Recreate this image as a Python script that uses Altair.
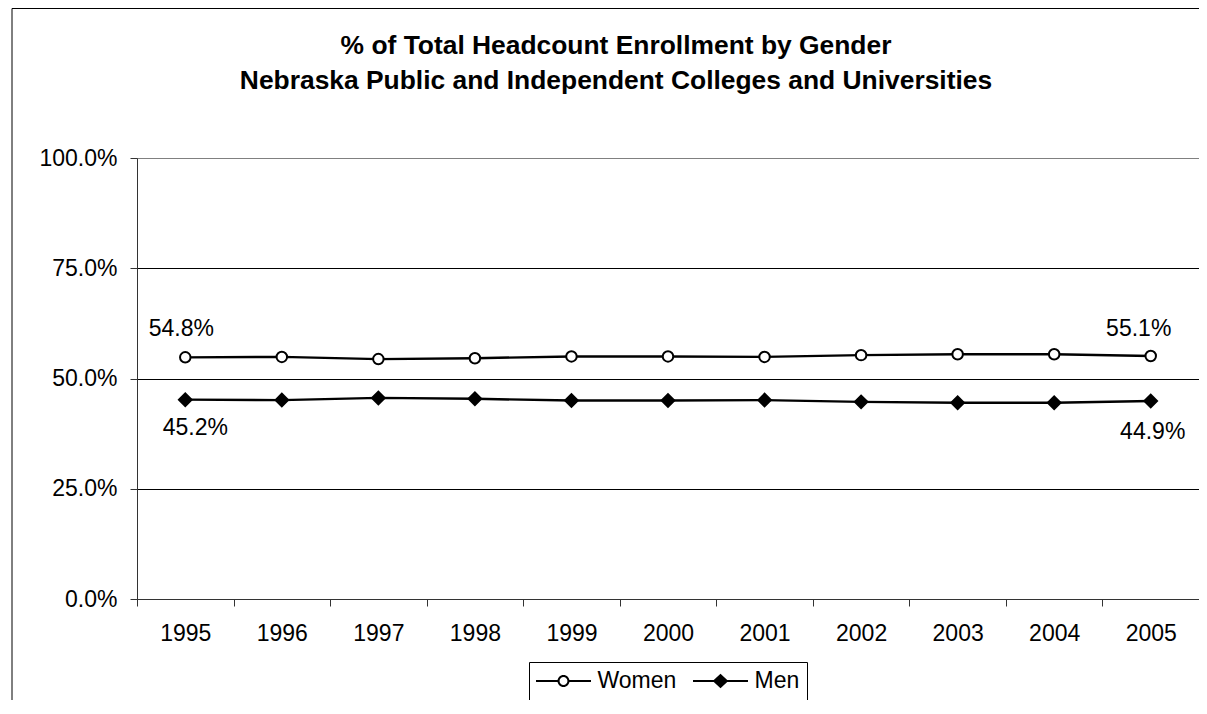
import altair as alt
import pandas as pd

FONT = "Liberation Sans"

years = ["1995", "1996", "1997", "1998", "1999", "2000",
         "2001", "2002", "2003", "2004", "2005"]
women = [54.8, 54.9, 54.4, 54.6, 55.0, 55.0, 54.9, 55.3, 55.5, 55.5, 55.1]
men = [45.2, 45.1, 45.6, 45.4, 45.0, 45.0, 45.1, 44.7, 44.5, 44.5, 44.9]
series = ["Women", "Men"]
y_ticks = [0, 0.25, 0.5, 0.75, 1.0]
title_lines = ["% of Total Headcount Enrollment by Gender",
               "Nebraska Public and Independent Colleges and Universities"]

rows = []
for s, vals in zip(series, [women, men]):
    for yr, v in zip(years, vals):
        rows.append({"year": yr, "series": s, "value": v / 100.0})
df = pd.DataFrame(rows)

W, H = 1062, 441

xscale = alt.Scale(type="band", domain=years, paddingInner=0, paddingOuter=0)
yscale = alt.Scale(domain=[0, 1], nice=False)

x_enc = alt.X("year:O", scale=xscale,
              axis=alt.Axis(title=None, tickBand="extent", labelAngle=0,
                            tickSize=7, labelPadding=16, labelFontSize=23,
                            labelFont=FONT, labelColor="black",
                            domainColor="#333333", tickColor="#333333",
                            grid=False))
y_enc = alt.Y("value:Q", scale=yscale,
              axis=alt.Axis(title=None, values=y_ticks, format=".1%",
                            tickSize=7, labelPadding=13, labelFontSize=23,
                            labelFont=FONT, labelColor="black",
                            domainColor="#333333", tickColor="#333333",
                            grid=True, gridColor="black", gridWidth=1,
                            gridOpacity={"condition": {"test": "datum.value === 0 || datum.value === 1",
                                                       "value": 0}, "value": 1}))

base = alt.Chart(df)

frame = alt.Chart(alt.Data(values=[{}])).mark_rect(
    fillOpacity=0, stroke="black", strokeWidth=1
).encode(x=alt.value(-125), x2=alt.value(W + 20),
         y=alt.value(-149.5), y2=alt.value(H + 120))

lines = base.mark_line(color="black", strokeWidth=2.4).encode(
    x=x_enc, y=y_enc, detail="series:N")

points = base.mark_point(filled=True, stroke="black", strokeWidth=2, opacity=1).encode(
    x=x_enc, y=y_enc,
    shape=alt.Shape("series:N", scale=alt.Scale(domain=series, range=["circle", "diamond"]),
                    legend=None),
    fill=alt.Fill("series:N", scale=alt.Scale(domain=series, range=["white", "black"]),
                  legend=None),
    size=alt.Size("series:N", scale=alt.Scale(domain=series, range=[110, 160]),
                  legend=None),
)

# legend glyphs (unit = 12px): line segment with marker
PATH_W = ("M-2.29,-0.09H-0.42V0.09H-2.29Z"
          "M0.42,-0.09H2.29V0.09H0.42Z"
          "M0.5,0A0.5,0.5 0 1,1 -0.5,0A0.5,0.5 0 1,1 0.5,0Z"
          "M0.33,0A0.33,0.33 0 1,0 -0.33,0A0.33,0.33 0 1,0 0.33,0Z")
PATH_M = ("M-2.29,-0.09H2.29V0.09H-2.29Z"
          "M-0.65,0L0,-0.6L0.65,0L0,0.6Z")

legend = alt.Legend(
    title=None, orient="none", legendX=392, legendY=504,
    direction="horizontal", symbolSize=576, symbolStrokeWidth=0,
    symbolFillColor="black", symbolOffset=15.5,
    labelFontSize=23, labelFont=FONT, labelColor="black",
    labelOffset=22, columnPadding=16, padding=7,
    strokeColor="black", fillColor="white", cornerRadius=0,
    labelLimit=0,
)

legend_layer = base.transform_filter("false").mark_point(
    filled=True, color="black", size=576, strokeWidth=0, opacity=1
).encode(
    x=x_enc, y=y_enc,
    shape=alt.Shape("series:N", scale=alt.Scale(domain=series, range=[PATH_W, PATH_M]),
                    legend=legend),
)


def label(series_name, year, dx, dy):
    return base.transform_filter(
        f"datum.series === '{series_name}' && datum.year === '{year}'"
    ).mark_text(dx=dx, dy=dy, fontSize=23, font=FONT, color="black",
                baseline="middle", align="center").encode(
        x=x_enc, y=y_enc, text=alt.Text("value:Q", format=".1%"))


labels = [
    label("Women", years[0], -4, -28),
    label("Men", years[0], 10, 28),
    label("Women", years[-1], -12, -27),
    label("Men", years[-1], 2, 31),
]

chart = alt.layer(frame, lines, points, legend_layer, *labels).resolve_scale(
    shape="independent"
).properties(
    width=W, height=H,
    autosize=alt.AutoSizeParams(type="none"),
    padding={"left": 129, "top": 150, "right": 0, "bottom": 101},
    title=alt.TitleParams(text=title_lines, font=FONT, fontSize=26.4,
                          fontWeight="bold", color="black", anchor="middle",
                          frame="group", dx=-52, offset=-86, lineHeight=35),
    background="white",
).configure_view(stroke="#808080", strokeWidth=1)

chart.save("out.html", embed_options={"renderer": "svg", "actions": False})
